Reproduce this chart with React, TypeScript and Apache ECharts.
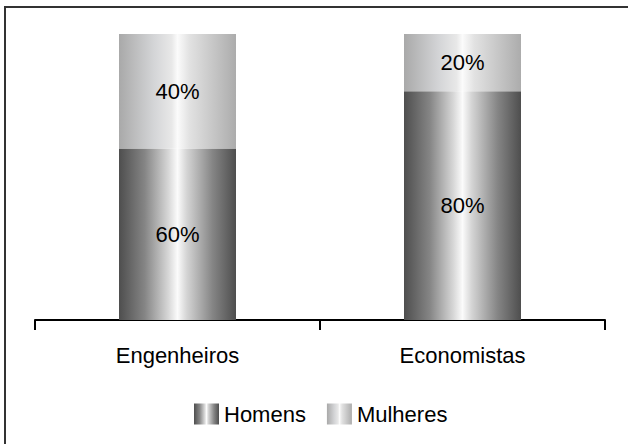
import React, { useEffect, useRef } from "react";
import * as echarts from "echarts";

const categories = ["Engenheiros", "Economistas"];
const homens = [60, 80];
const mulheres = [40, 20];
const seriesNames = ["Homens", "Mulheres"];

const darkGrad = () =>
  new echarts.graphic.LinearGradient(0, 0, 1, 0, [
    { offset: 0, color: "#4e4e4e" },
    { offset: 0.22, color: "#858585" },
    { offset: 0.42, color: "#d6d6d6" },
    { offset: 0.5, color: "#fbfbfb" },
    { offset: 0.58, color: "#d4d4d4" },
    { offset: 0.8, color: "#858585" },
    { offset: 1, color: "#4e4e4e" },
  ]);

const lightGrad = () =>
  new echarts.graphic.LinearGradient(0, 0, 1, 0, [
    { offset: 0, color: "#a9a9a9" },
    { offset: 0.3, color: "#d4d5d7" },
    { offset: 0.45, color: "#e8e8e8" },
    { offset: 0.5, color: "#fbfbfb" },
    { offset: 0.6, color: "#e2e2e2" },
    { offset: 1, color: "#acacac" },
  ]);

export default function App() {
  const ref = useRef<HTMLDivElement>(null);
  useEffect(() => {
    if (!ref.current) return;
    const chart = echarts.init(ref.current, null, { renderer: "svg" });
    const font = "'Liberation Sans', Arial, sans-serif";
    const labelStyle = {
      show: true,
      position: "inside",
      formatter: "{c}%",
      fontSize: 22,
      color: "#000",
      fontFamily: font,
    };
    chart.setOption({
      animation: false,
      backgroundColor: "#ffffff",
      textStyle: { fontFamily: font },
      graphic: [
        {
          type: "rect",
          shape: { x: 5, y: 7, width: 700, height: 500 },
          style: { fill: "none", stroke: "#333333", lineWidth: 2 },
          silent: true,
        },
      ],
      legend: {
        data: seriesNames,
        left: 189,
        top: 398,
        itemWidth: 25,
        itemHeight: 21,
        itemGap: 21,
        icon: "rect",
        textStyle: { fontSize: 22, color: "#000", fontFamily: font },
      },
      grid: { left: 35, right: 23, top: 34, bottom: 124 },
      xAxis: {
        type: "category",
        data: categories,
        axisLine: { lineStyle: { color: "#000", width: 2 } },
        axisTick: { show: true, length: 10, lineStyle: { color: "#000", width: 2 } },
        axisLabel: { fontSize: 22, color: "#000", margin: 24, fontFamily: font },
      },
      yAxis: {
        type: "value",
        min: 0,
        max: 100,
        show: false,
        splitLine: { show: false },
      },
      series: [
        {
          name: seriesNames[0],
          type: "bar",
          stack: "total",
          barWidth: 117,
          data: homens,
          itemStyle: { color: darkGrad() },
          label: labelStyle,
        },
        {
          name: seriesNames[1],
          type: "bar",
          stack: "total",
          barWidth: 117,
          data: mulheres,
          itemStyle: { color: lightGrad() },
          label: labelStyle,
        },
      ],
    });
    return () => chart.dispose();
  }, []);
  return (
    <div
      ref={ref}
      style={{ position: "fixed", left: 0, top: 0, width: 628, height: 444 }}
    />
  );
}
